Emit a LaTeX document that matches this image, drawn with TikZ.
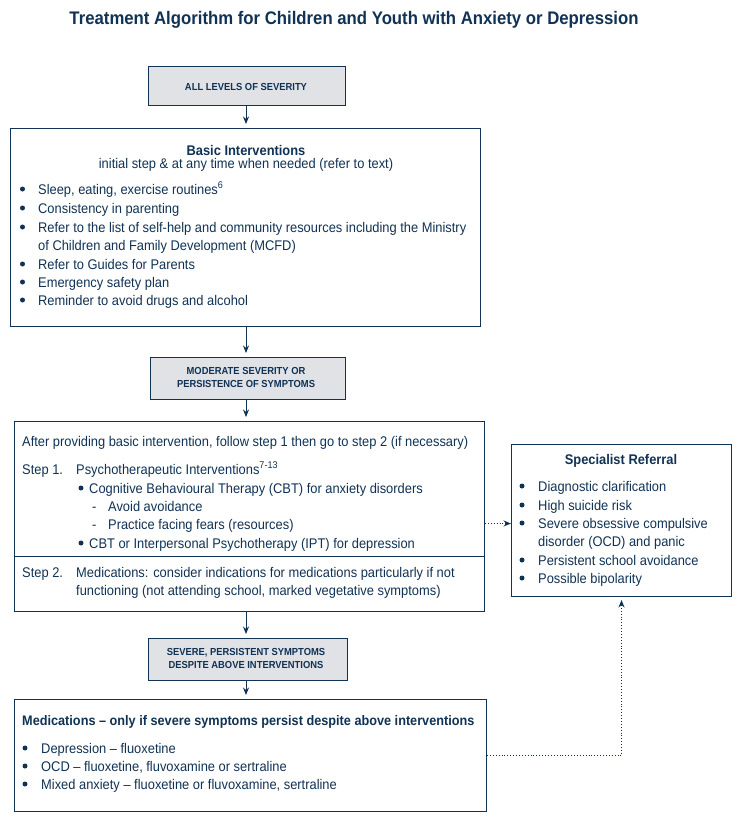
\documentclass[tikz,border=0pt]{standalone}
\usepackage{fontspec}
\setmainfont{Liberation Sans}[FakeStretch=0.92]
\usetikzlibrary{arrows.meta}
\definecolor{navy}{RGB}{16,50,84}
\definecolor{boxgray}{RGB}{225,226,230}
\begin{document}
\begin{tikzpicture}[x=1pt,y=-1pt,
  frame/.style={draw=navy,line width=1pt,inner sep=0pt,anchor=north west},
  graybox/.style={frame,fill=boxgray},
  txt/.style={inner sep=0pt,anchor=base west,text=navy,font=\fontsize{14}{16}\selectfont},
  ctxt/.style={txt,anchor=base},
  htxt/.style={inner sep=0pt,anchor=base,text=navy,font=\bfseries\fontsize{14}{16}\selectfont},
  captxt/.style={inner sep=0pt,anchor=base,text=navy,font=\bfseries\fontsize{10.2}{12}\selectfont},
  dot/.style={circle,fill=navy,inner sep=0pt,minimum size=5pt},
  flow/.style={draw=navy,line width=1pt,-{Stealth[length=7.5pt,width=6pt]},shorten >=4pt},
  dotflow/.style={draw=navy,line width=0.9pt,dotted,-{Stealth[length=7.5pt,width=6pt]}},
]
\useasboundingbox (0,0) rectangle (740,820);
% title
\node[inner sep=0pt,anchor=base,text=navy,font=\bfseries\fontsize{18.2}{22}\selectfont] (title) at (354,24) {Treatment Algorithm for Children and Youth with Anxiety or Depression};

% boxes
\node[graybox,minimum width=197pt,minimum height=39pt] (b1) at (148,66) {};
\node[frame,minimum width=470pt,minimum height=198pt] (b2) at (10,128) {};
\node[graybox,minimum width=195pt,minimum height=42pt] (b3) at (150,357) {};
\node[frame,minimum width=470pt,minimum height=190pt] (b4) at (14,421) {};
\node[frame,minimum width=220pt,minimum height=152pt] (sp) at (511,444) {};
\node[graybox,minimum width=199pt,minimum height=42pt] (b5) at (148,638) {};
\node[frame,minimum width=472pt,minimum height=112pt] (b6) at (14,699) {};
\draw[navy,line width=1pt] (b4.west |- 0,556) coordinate (dl) -- (b4.east |- 0,556) coordinate (dr);

% box1
\node[captxt] (t1) at (246,90) {ALL LEVELS OF SEVERITY};

% box2
\node[htxt] (t2a) at (246,155) {Basic Interventions};
\node[ctxt] (t2b) at (246,168) {initial step \& at any time when needed (refer to text)};
\node[dot] (p1) at (22.5,189) {};
\node[txt] (q1) at (38,194) {Sleep, eating, exercise routines\textsuperscript{6}};
\node[dot] (p2) at (22.5,208) {};
\node[txt] (q2) at (38,213) {Consistency in parenting};
\node[dot] (p3) at (22.5,227) {};
\node[txt] (q3) at (38,232) {Refer to the list of self-help and community resources including the Ministry};
\node[txt] (q3b) at (38,250) {of Children and Family Development (MCFD)};
\node[dot] (p4) at (22.5,264) {};
\node[txt] (q4) at (38,269) {Refer to Guides for Parents};
\node[dot] (p5) at (22.5,282) {};
\node[txt] (q5) at (38,287) {Emergency safety plan};
\node[dot] (p6) at (22.5,300) {};
\node[txt] (q6) at (38,305) {Reminder to avoid drugs and alcohol};

% box3
\node[captxt] (t3a) at (246,374) {MODERATE SEVERITY OR};
\node[captxt] (t3b) at (246,387) {PERSISTENCE OF SYMPTOMS};

% box4
\node[txt] (r0) at (22,446) {After providing basic intervention, follow step 1 then go to step 2 (if necessary)};
\node[txt] (s1) at (22,474) {Step 1.};
\node[txt] (r1) at (76,474) {Psychotherapeutic Interventions\textsuperscript{7-13}};
\node[dot] (r2p) at (81,488) {};
\node[txt] (r2) at (89,493) {Cognitive Behavioural Therapy (CBT) for anxiety disorders};
\node[txt] (r3p) at (92,511) {-};
\node[txt] (r3) at (108,511) {Avoid avoidance};
\node[txt] (r4p) at (92,529) {-};
\node[txt] (r4) at (108,529) {Practice facing fears (resources)};
\node[dot] (r5p) at (81,543) {};
\node[txt] (r5) at (89,548) {CBT or Interpersonal Psychotherapy (IPT) for depression};
\node[txt] (s2) at (22,577) {Step 2.};
\node[txt] (r6) at (76,577) {Medications: consider indications for medications particularly if not};
\node[txt] (r7) at (76,595) {functioning (not attending school, marked vegetative symptoms)};

% specialist
\node[htxt] (sph) at (621,464) {Specialist Referral};
\node[dot] (u1p) at (522,486) {};
\node[txt] (u1) at (538,491) {Diagnostic clarification};
\node[dot] (u2p) at (522,505) {};
\node[txt] (u2) at (538,510) {High suicide risk};
\node[dot] (u3p) at (522,523) {};
\node[txt] (u3) at (538,528) {Severe obsessive compulsive};
\node[txt] (u3b) at (538,546) {disorder (OCD) and panic};
\node[dot] (u4p) at (522,560) {};
\node[txt] (u4) at (538,565) {Persistent school avoidance};
\node[dot] (u5p) at (522,578) {};
\node[txt] (u5) at (538,583) {Possible bipolarity};

% box5
\node[captxt] (t5a) at (246,655) {SEVERE, PERSISTENT SYMPTOMS};
\node[captxt] (t5b) at (246,668) {DESPITE ABOVE INTERVENTIONS};

% box6
\node[htxt,anchor=base west,font=\bfseries\fontsize{13.8}{16}\selectfont] (m0) at (22,725) {Medications – only if severe symptoms persist despite above interventions};
\node[dot] (m1p) at (25,748) {};
\node[txt] (m1) at (41,753) {Depression – fluoxetine};
\node[dot] (m2p) at (25,766) {};
\node[txt] (m2) at (41,771) {OCD – fluoxetine, fluvoxamine or sertraline};
\node[dot] (m3p) at (25,784) {};
\node[txt] (m3) at (41,789) {Mixed anxiety – fluoxetine or fluvoxamine, sertraline};

% connectors
\draw[flow] (b1.south -| 246,0) -- (b2.north -| 246,0);
\draw[flow] (b2.south -| 246,0) -- (b3.north -| 246,0);
\draw[flow] (b3.south -| 246,0) -- (b4.north -| 246,0);
\draw[flow] (b4.south -| 246,0) -- (b5.north -| 246,0);
\draw[flow] (b5.south -| 246,0) -- (b6.north -| 246,0);
\draw[dotflow] ([yshift=-7pt]b4.east) -- ([yshift=-7pt]b4.east -| sp.west);
\draw[dotflow,shorten >=3pt] (b6.east) -| (sp.south);
\end{tikzpicture}
\end{document}
